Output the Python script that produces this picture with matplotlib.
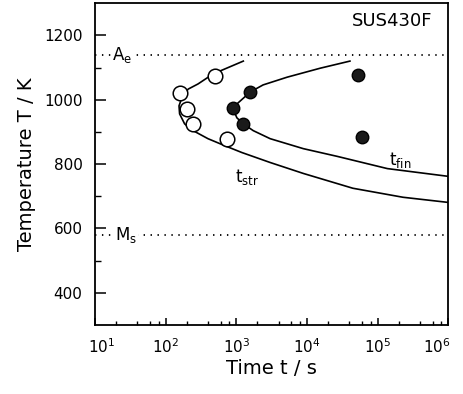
import numpy as np
import matplotlib
matplotlib.use("Agg")
import matplotlib.pyplot as plt
import matplotlib.transforms as mtransforms
from matplotlib.ticker import LogLocator, FixedLocator, NullFormatter

plt.rcParams['font.family'] = ['DejaVu Sans']
plt.rcParams['mathtext.fontset'] = 'dejavusans'
plt.rcParams['lines.scale_dashes'] = False

# ---- data ----
tstr_t = [1260, 470, 288, 209, 170, 155, 158, 186, 245, 398, 692, 1200, 3020, 8900, 44700, 229000, 1000000]
tstr_T = [1120, 1080, 1049, 1033, 1006, 981, 956, 925, 904, 879, 857, 836, 805, 771, 725, 697, 681]

tfin_t = [40700, 15500, 5250, 2400, 1580, 890, 1020, 1260, 1740, 3020, 8900, 26900, 138000, 1000000]
tfin_T = [1120, 1098, 1070, 1046, 1024, 975, 944, 925, 904, 879, 848, 824, 786, 762]

open_t = [500, 158, 200, 245, 740]
open_T = [1073, 1021, 972, 925, 879]

fill_t = [1580, 890, 1260, 53700, 60300]
fill_T = [1024, 975, 925, 1077, 883]

Ae_T = 1140
Ms_T = 580

xticks = [1e1, 1e2, 1e3, 1e4, 1e5, 1e6]
xticklabels = ['$10^1$', '$10^2$', '$10^3$', '$10^4$', '$10^5$', '$10^6$']
yticks = [400, 600, 800, 1000, 1200]

fig = plt.figure(figsize=(4.63, 3.94), dpi=100)
ax = fig.add_axes([0.205, 0.175, 0.763, 0.817])

ax.set_xscale('log')
ax.set_xlim(1e1, 1e6)
ax.set_ylim(300, 1300)

# reference lines
ax.plot([1e1, 1e6], [Ae_T, Ae_T], color='black', lw=1.3, ls=(0, (1, 4)))
ax.plot([1e1, 1e6], [Ms_T, Ms_T], color='black', lw=1.3, ls=(0, (1, 4)))
ax.text(10**1.24, Ae_T, r'$\mathrm{A_e}$', fontsize=12, va='center', ha='left',
        bbox=dict(facecolor='white', edgecolor='none', pad=1.0), zorder=3)
ax.text(10**1.28, Ms_T, r'$\mathrm{M_s}$', fontsize=12, va='center', ha='left',
        bbox=dict(facecolor='white', edgecolor='none', pad=1.0), zorder=3)

# curves
ax.plot(tstr_t, tstr_T, color='black', lw=1.2, zorder=4, solid_joinstyle='round')
ax.plot(tfin_t, tfin_T, color='black', lw=1.2, zorder=4, solid_joinstyle='round')

# points
ax.plot(open_t, open_T, ls='none', marker='o', ms=10.5, mfc='white', mec='black', mew=1.1, zorder=5)
ax.plot(fill_t, fill_T, ls='none', marker='o', ms=9, mfc='#1a1a1a', mec='black', mew=1.0, zorder=5)

# labels
ax.text(10**3.15, 760, r'$\mathrm{t_{str}}$', fontsize=12, ha='center', va='center')
ax.text(10**5.32, 812, r'$\mathrm{t_{fin}}$', fontsize=12, ha='center', va='center')
ax.text(10**5.2, 1245, 'SUS430F', fontsize=13, ha='center', va='center')

# ticks
ax.xaxis.set_major_locator(FixedLocator(xticks))
ax.set_xticklabels(xticklabels)
ax.xaxis.set_minor_locator(LogLocator(base=10, subs=[2, 4, 6, 8]))
ax.xaxis.set_minor_formatter(NullFormatter())
ax.yaxis.set_major_locator(FixedLocator(yticks))
ax.yaxis.set_minor_locator(FixedLocator([500, 700, 900, 1100]))

ax.tick_params(axis='both', which='both', direction='in', top=False, right=False)
ax.tick_params(axis='y', which='major', length=8, width=1.1, labelsize=11, pad=9)
ax.tick_params(axis='y', which='minor', length=4, width=1.0)
ax.tick_params(axis='x', which='major', length=5, width=1.1, labelsize=11, pad=9)
ax.tick_params(axis='x', which='minor', length=3, width=1.0)

labs = ax.get_xticklabels()
labs[0].set_ha('left')
labs[0].set_transform(labs[0].get_transform() +
                      mtransforms.ScaledTranslation(-5 / 72, 0, fig.dpi_scale_trans))
labs[-1].set_ha('right')
labs[-1].set_transform(labs[-1].get_transform() +
                       mtransforms.ScaledTranslation(2 / 72, 0, fig.dpi_scale_trans))

for s in ax.spines.values():
    s.set_linewidth(1.3)

ax.set_xlabel('Time t / s', fontsize=14, labelpad=2)
ax.set_ylabel('Temperature T / K', fontsize=14, labelpad=6)

fig.savefig('out.png', dpi=100)
